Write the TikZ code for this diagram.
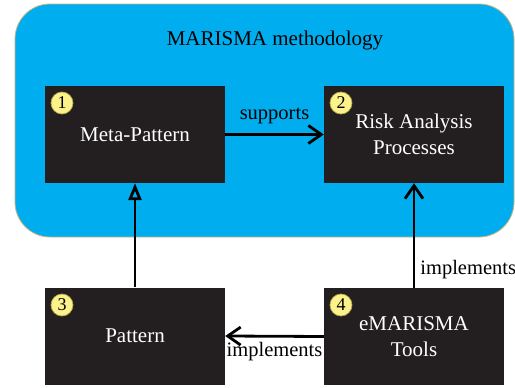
\documentclass[tikz,border=0pt]{standalone}
\usepackage{fontspec}
\setmainfont{Liberation Serif}
\usetikzlibrary{arrows.meta}
\definecolor{marblue}{HTML}{00AEEF}
\definecolor{boxdark}{HTML}{231F20}
\definecolor{edgegold}{HTML}{C9B37E}
\definecolor{numyellow}{HTML}{FBF28C}
\definecolor{numedge}{HTML}{B8A84A}
\begin{document}
\begin{tikzpicture}[x=1pt,y=-1pt,
  dbox/.style={fill=boxdark, minimum width=180pt, minimum height=97pt, inner sep=0pt,
    text=white, align=center, font=\fontsize{21}{26}\selectfont},
  numc/.style={circle, fill=numyellow, draw=numedge, line width=0.7pt, minimum size=22pt,
    inner sep=0pt, font=\fontsize{18}{18}\selectfont},
  lbl/.style={font=\fontsize{20.5}{22}\selectfont, text=black, inner sep=1pt},
  arr/.style={line width=2.8pt, -{Straight Barb[length=13pt,width=18pt,line width=2.8pt]}},
  tri/.style={line width=2.8pt, -{Triangle[open,fill=marblue,length=17pt,width=13pt,line width=2.8pt]}}
]
\useasboundingbox (0,0) rectangle (515,388);
\draw[edgegold, fill=marblue, rounded corners=35pt, line width=0.8pt] (15,4) rectangle (514,237);
\node[font=\fontsize{21}{24}\selectfont] (title) at (275,40) {MARISMA methodology};
\node[dbox] (mp) at (135,134.5) {Meta-Pattern};
\node[dbox] (rap) at (414,134.5) {Risk Analysis\\Processes};
\node[dbox] (pat) at (135,336) {Pattern};
\node[dbox] (tools) at (414,336.5) {eMARISMA\\Tools};
\node[numc] (n1) at (62,103) {1};
\node[numc] (n2) at (341,103) {2};
\node[numc] (n3) at (62,305) {3};
\node[numc] (n4) at (341,305) {4};
\draw[arr] (mp.east) -- (rap.west) node[lbl, midway, above=8pt] {supports};
\draw[tri] (pat.north) -- (mp.south);
\draw[arr] (tools.north) -- (rap.south) node[lbl, pos=0.17, right=4pt] {implements};
\draw[arr] (tools.west) -- (pat.east) node[lbl, midway, below=4pt] {implements};
\end{tikzpicture}
\end{document}
